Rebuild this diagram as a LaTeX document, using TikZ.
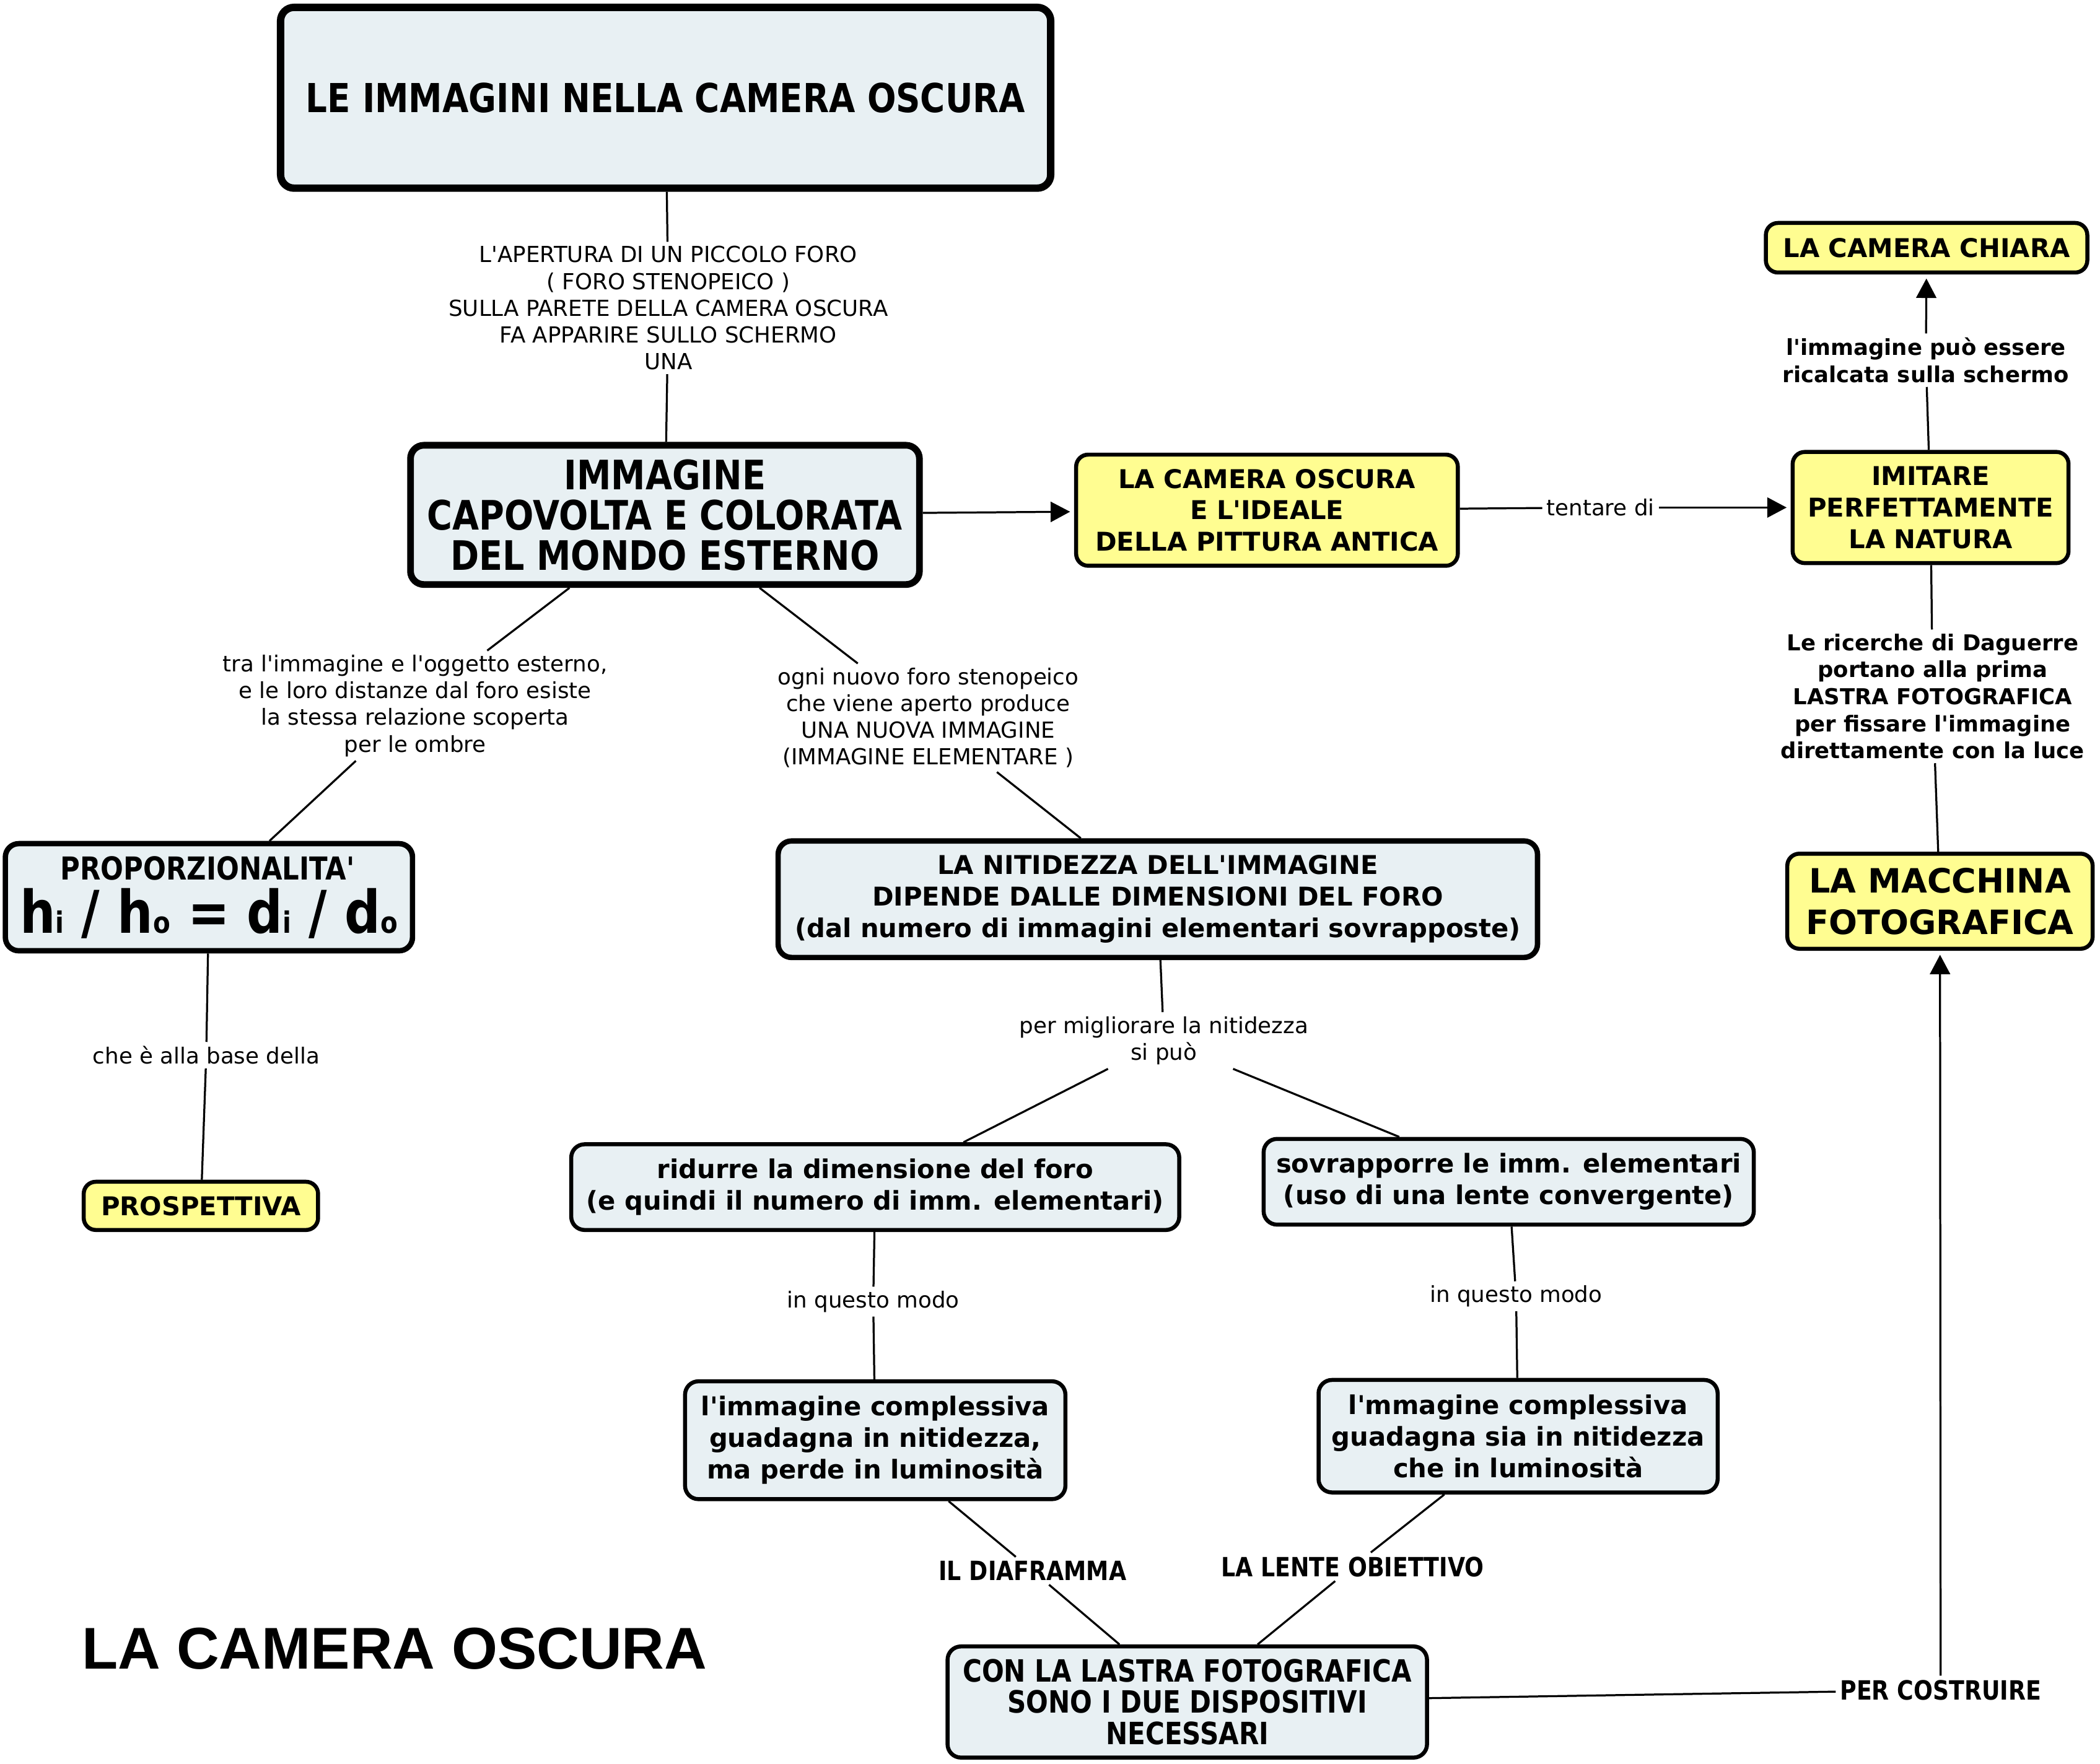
\documentclass[tikz,border=0pt]{standalone}
\usepackage{fontspec}
\setmainfont{DejaVu Sans}[Ligatures=TeXOff]
\newfontfamily\condf{DejaVu Sans}[FakeStretch=0.85,Ligatures=TeXOff]
\newfontfamily\arialf{Liberation Sans}[Ligatures=TeXOff]
\usetikzlibrary{arrows.meta}
\definecolor{boxblue}{RGB}{232,240,243}
\definecolor{boxyellow}{RGB}{255,253,145}
\tikzset{
  bbox/.style={draw=black, fill=boxblue, rounded corners=10pt, align=center, inner sep=0pt, line width=3pt},
  ybox/.style={draw=black, fill=boxyellow, rounded corners=9pt, align=center, inner sep=0pt, line width=3pt},
  bfn/.style={font=\bfseries\fontsize{19.3}{23.5}\selectfont},
  lbl/.style={align=center, inner sep=3pt, font=\fontsize{16.5}{20}\selectfont},
  blbl/.style={align=center, inner sep=3pt, font=\bfseries\fontsize{16.4}{20.2}\selectfont},
  clbl/.style={align=center, inner sep=3pt, font=\condf\bfseries\fontsize{19.8}{22}\selectfont},
  conn/.style={line width=1.5pt},
  arr/.style={line width=1.5pt, -{Triangle[length=14.5pt,width=15pt]}, shorten >=3pt},
}
\begin{document}
\begin{tikzpicture}[x=1pt,y=-1pt]
\useasboundingbox[fill=white] (0,0) rectangle (1568,1317);

% ---------- boxes ----------
\node[bbox, line width=5.5pt, minimum width=575pt, minimum height=135pt,
      font=\condf\bfseries\fontsize{29.8}{30}\selectfont] (n1) at (497,73) {LE IMMAGINI NELLA CAMERA OSCURA};

\node[lbl] (l1) at (499,230) {L'APERTURA DI UN PICCOLO FORO\\( FORO STENOPEICO )\\SULLA PARETE DELLA CAMERA OSCURA\\FA APPARIRE SULLO SCHERMO\\UNA};

\node[bbox, line width=5pt, minimum width=380pt, minimum height=104pt,
      font=\condf\bfseries\fontsize{30.3}{30}\selectfont] (n2) at (496.5,384.5) {IMMAGINE\\CAPOVOLTA E COLORATA\\DEL MONDO ESTERNO};

\node[ybox, bfn, minimum width=285pt, minimum height=83pt] (n3) at (946,381) {LA CAMERA OSCURA\\E L'IDEALE\\DELLA PITTURA ANTICA};

\node[lbl] (ltent) at (1195,379) {tentare di};

\node[ybox, bfn, minimum width=206pt, minimum height=83pt] (n5) at (1441.5,379) {IMITARE\\PERFETTAMENTE\\LA NATURA};

\node[blbl] (lric) at (1438,269) {l'immagine può essere\\ricalcata sulla schermo};

\node[ybox, bfn, minimum width=240pt, minimum height=37pt] (n6) at (1438.5,185) {LA CAMERA CHIARA};

\node[blbl] (ldag) at (1443,520) {Le ricerche di Daguerre\\portano alla prima\\LASTRA FOTOGRAFICA\\per fissare l'immagine\\direttamente con la luce};

\node[ybox, minimum width=228pt, minimum height=71pt,
      font=\bfseries\fontsize{25}{31}\selectfont] (n7) at (1448.5,673) {LA MACCHINA\\FOTOGRAFICA};

\node[lbl] (l2) at (310,527) {tra l'immagine e l'oggetto esterno,\\e le loro distanze dal foro esiste\\la stessa relazione scoperta\\per le ombre};

\node[bbox, line width=4pt, minimum width=304pt, minimum height=80pt] (n8) at (156,670) {};
\node[inner sep=0pt, anchor=base, font=\condf\bfseries\fontsize{23.6}{23.6}\selectfont] (n8a) at (155,657) {PROPORZIONALITA'};
\node[inner sep=0pt, anchor=base, font=\condf\bfseries\fontsize{44}{44}\selectfont] (n8b) at (156,697)
  {h{\fontsize{22}{22}\selectfont i} / h{\fontsize{22}{22}\selectfont o} = d{\fontsize{22}{22}\selectfont i} / d{\fontsize{22}{22}\selectfont o}};

\node[lbl] (l4) at (154,788) {che è alla base della};

\node[ybox, bfn, minimum width=175pt, minimum height=36pt] (n9) at (150,900.5) {PROSPETTIVA};

\node[lbl] (l3) at (693,536) {ogni nuovo foro stenopeico\\che viene aperto produce\\UNA NUOVA IMMAGINE\\(IMMAGINE ELEMENTARE )};

\node[bbox, bfn, line width=4pt, minimum width=567pt, minimum height=87pt] (n10) at (864.5,671.5) {LA NITIDEZZA DELL'IMMAGINE\\DIPENDE DALLE DIMENSIONI DEL FORO\\(dal numero di immagini elementari sovrapposte)};

\node[lbl] (l5) at (869,777) {per migliorare la nitidezza\\si può};

\node[bbox, bfn, minimum width=454pt, minimum height=64pt] (n11a) at (653.5,886.5) {ridurre la dimensione del foro\\(e quindi il numero di imm. elementari)};
\node[bbox, bfn, minimum width=366pt, minimum height=64pt] (n11b) at (1126.5,882.5) {sovrapporre le imm. elementari\\(uso di una lente convergente)};

\node[lbl] (l6a) at (652,972) {in questo modo};
\node[lbl] (l6b) at (1132,968) {in questo modo};

\node[bbox, bfn, minimum width=284pt, minimum height=88pt] (n12a) at (653.5,1075.5) {l'immagine complessiva\\guadagna in nitidezza,\\ma perde in luminosità};
\node[bbox, bfn, minimum width=298pt, minimum height=84pt] (n12b) at (1133.5,1072.5) {l'mmagine complessiva\\guadagna sia in nitidezza\\che in luminosità};

\node[clbl] (l7) at (771,1173) {IL DIAFRAMMA};
\node[clbl] (l8) at (1010,1170) {LA LENTE OBIETTIVO};

\node[bbox, minimum width=358pt, minimum height=83pt,
      font=\condf\bfseries\fontsize{22.9}{23.5}\selectfont] (n13) at (886.5,1271) {CON LA LASTRA FOTOGRAFICA\\SONO I DUE DISPOSITIVI\\NECESSARI};

\node[clbl] (l9) at (1449,1262) {PER COSTRUIRE};

\node[inner sep=0pt, font=\arialf\bfseries\fontsize{44}{44}\selectfont] (title) at (294.5,1231) {LA CAMERA OSCURA};

% ---------- connectors ----------
\draw[conn] (n1) -- (l1);
\draw[conn] (l1) -- (n2);
\draw[arr] (n2) -- (n3);
\draw[conn] (n3) -- (ltent);
\draw[arr] (ltent) -- (n5);
\draw[conn] (n5) -- (lric);
\draw[arr] (lric) -- (n6);
\draw[conn] (n5) -- (ldag);
\draw[conn] (ldag) -- (n7);
\draw[conn] (n2) -- (l2);
\draw[conn] (l2) -- (n8);
\draw[conn] (n8) -- (l4);
\draw[conn] (l4) -- (n9);
\draw[conn] (n2) -- (l3);
\draw[conn] (l3) -- (n10);
\draw[conn] (n10) -- (l5);
\draw[conn] (l5) -- (n11a);
\draw[conn] (l5) -- (n11b);
\draw[conn] (n11a) -- (l6a);
\draw[conn] (l6a) -- (n12a);
\draw[conn] (n11b) -- (l6b);
\draw[conn] (l6b) -- (n12b);
\draw[conn] (n12a) -- (l7);
\draw[conn] (l7) -- (n13);
\draw[conn] (n12b) -- (l8);
\draw[conn] (l8) -- (n13);
\draw[conn] (n13) -- (l9);
\draw[arr] (l9) -- (n7);
\end{tikzpicture}
\end{document}
